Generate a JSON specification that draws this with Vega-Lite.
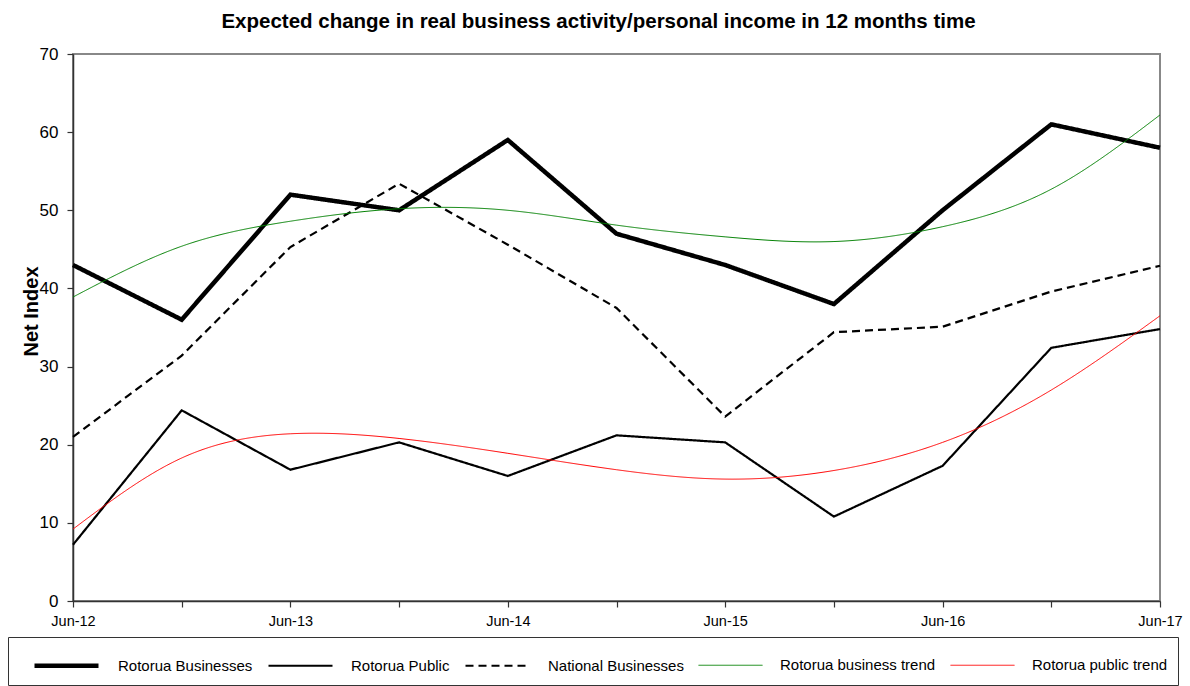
{
  "$schema": "https://vega.github.io/schema/vega-lite/v6.json",
  "autosize": {"type": "none"},
  "padding": {"left": 73, "top": 54, "right": 30, "bottom": 85},
  "width": 1087,
  "height": 547,
  "background": "white",
  "title": {
    "text": "Expected change in real business activity/personal income in 12 months time",
    "font": "Liberation Sans, Arial, sans-serif",
    "fontSize": 20.5,
    "fontWeight": "bold",
    "color": "black",
    "anchor": "middle",
    "dx": -18,
    "dy": 18,
    "offset": 15,
    "baseline": "alphabetic"
  },
  "config": {
    "view": {"stroke": "#888888", "strokeWidth": 2},
    "axis": {"domainColor": "#333333", "tickColor": "#333333", "domainWidth": 1.5, "tickWidth": 1.2, "grid": false, "labelColor": "black", "titleColor": "black"}
  },
  "datasets": {
    "actual": [
      {"period": "Jun-12", "series": "Rotorua Businesses", "value": 43},
      {"period": "Dec-12", "series": "Rotorua Businesses", "value": 36},
      {"period": "Jun-13", "series": "Rotorua Businesses", "value": 52},
      {"period": "Dec-13", "series": "Rotorua Businesses", "value": 50},
      {"period": "Jun-14", "series": "Rotorua Businesses", "value": 59},
      {"period": "Dec-14", "series": "Rotorua Businesses", "value": 47},
      {"period": "Jun-15", "series": "Rotorua Businesses", "value": 43},
      {"period": "Dec-15", "series": "Rotorua Businesses", "value": 38},
      {"period": "Jun-16", "series": "Rotorua Businesses", "value": 50},
      {"period": "Dec-16", "series": "Rotorua Businesses", "value": 61},
      {"period": "Jun-17", "series": "Rotorua Businesses", "value": 58},
      {"period": "Jun-12", "series": "Rotorua Public", "value": 7.2},
      {"period": "Dec-12", "series": "Rotorua Public", "value": 24.4},
      {"period": "Jun-13", "series": "Rotorua Public", "value": 16.8},
      {"period": "Dec-13", "series": "Rotorua Public", "value": 20.3},
      {"period": "Jun-14", "series": "Rotorua Public", "value": 16.0},
      {"period": "Dec-14", "series": "Rotorua Public", "value": 21.2},
      {"period": "Jun-15", "series": "Rotorua Public", "value": 20.3},
      {"period": "Dec-15", "series": "Rotorua Public", "value": 10.8},
      {"period": "Jun-16", "series": "Rotorua Public", "value": 17.3},
      {"period": "Dec-16", "series": "Rotorua Public", "value": 32.4},
      {"period": "Jun-17", "series": "Rotorua Public", "value": 34.8},
      {"period": "Jun-12", "series": "National Businesses", "value": 21.0},
      {"period": "Dec-12", "series": "National Businesses", "value": 31.4},
      {"period": "Jun-13", "series": "National Businesses", "value": 45.3},
      {"period": "Dec-13", "series": "National Businesses", "value": 53.4},
      {"period": "Jun-14", "series": "National Businesses", "value": 45.6},
      {"period": "Dec-14", "series": "National Businesses", "value": 37.5},
      {"period": "Jun-15", "series": "National Businesses", "value": 23.6},
      {"period": "Dec-15", "series": "National Businesses", "value": 34.4},
      {"period": "Jun-16", "series": "National Businesses", "value": 35.1},
      {"period": "Dec-16", "series": "National Businesses", "value": 39.6},
      {"period": "Jun-17", "series": "National Businesses", "value": 42.9}
    ],
    "trend": [
      {"period": "Jun-12", "series": "Rotorua business trend", "value": 38.9},
      {"period": "Dec-12", "series": "Rotorua business trend", "value": 45.4},
      {"period": "Jun-13", "series": "Rotorua business trend", "value": 48.6},
      {"period": "Dec-13", "series": "Rotorua business trend", "value": 50.2},
      {"period": "Jun-14", "series": "Rotorua business trend", "value": 50.0},
      {"period": "Dec-14", "series": "Rotorua business trend", "value": 48.1},
      {"period": "Jun-15", "series": "Rotorua business trend", "value": 46.6},
      {"period": "Dec-15", "series": "Rotorua business trend", "value": 46.0},
      {"period": "Jun-16", "series": "Rotorua business trend", "value": 47.9},
      {"period": "Dec-16", "series": "Rotorua business trend", "value": 52.7},
      {"period": "Jun-17", "series": "Rotorua business trend", "value": 62.2},
      {"period": "Jun-12", "series": "Rotorua public trend", "value": 9.2},
      {"period": "Dec-12", "series": "Rotorua public trend", "value": 18.3},
      {"period": "Jun-13", "series": "Rotorua public trend", "value": 21.4},
      {"period": "Dec-13", "series": "Rotorua public trend", "value": 20.8},
      {"period": "Jun-14", "series": "Rotorua public trend", "value": 18.9},
      {"period": "Dec-14", "series": "Rotorua public trend", "value": 16.8},
      {"period": "Jun-15", "series": "Rotorua public trend", "value": 15.6},
      {"period": "Dec-15", "series": "Rotorua public trend", "value": 16.7},
      {"period": "Jun-16", "series": "Rotorua public trend", "value": 20.3},
      {"period": "Dec-16", "series": "Rotorua public trend", "value": 27.0},
      {"period": "Jun-17", "series": "Rotorua public trend", "value": 36.5}
    ]
  },
  "encoding": {
    "x": {
      "field": "period",
      "type": "ordinal",
      "scale": {"type": "point", "padding": 0, "domain": ["Jun-12","Dec-12","Jun-13","Dec-13","Jun-14","Dec-14","Jun-15","Dec-15","Jun-16","Dec-16","Jun-17"]},
      "axis": {
        "title": null,
        "labelAngle": 0,
        "labelFont": "Liberation Sans, Arial, sans-serif",
        "labelFontSize": 14.5,
        "labelPadding": 7,
        "tickSize": 6,
        "labelOverlap": false,
        "labelExpr": "slice(datum.label, 0, 3) == 'Jun' ? datum.label : ''"
      }
    },
    "y": {
      "field": "value",
      "type": "quantitative",
      "scale": {"domain": [0, 70], "nice": false},
      "axis": {
        "title": "Net Index",
        "values": [0, 10, 20, 30, 40, 50, 60, 70],
        "titleFont": "Liberation Sans, Arial, sans-serif",
        "titleFontSize": 20,
        "titleFontWeight": "bold",
        "titleAngle": -90,
        "titleX": -36,
        "titleY": 257,
        "titleAlign": "center",
        "titleBaseline": "alphabetic",
        "labelFont": "Liberation Sans, Arial, sans-serif",
        "labelFontSize": 17,
        "labelPadding": 9,
        "tickSize": 6
      }
    },
    "color": {
      "field": "series",
      "type": "nominal",
      "scale": {
        "domain": ["Rotorua Businesses", "Rotorua Public", "National Businesses", "Rotorua business trend", "Rotorua public trend"],
        "range": ["#000000", "#000000", "#000000", "#008000", "#ff0000"]
      },
      "legend": {
        "orient": "none",
        "legendX": -65,
        "legendY": 583,
        "direction": "horizontal",
        "title": null,
        "symbolType": "M-2,0H2",
        "symbolSize": 1024,
        "symbolOffset": 30,
        "labelOffset": 33,
        "labelFont": "Liberation Sans, Arial, sans-serif",
        "labelFontSize": 15,
        "labelColor": "black",
        "labelLimit": 0,
        "columnPadding": 0,
        "padding": 10,
        "strokeColor": "#333333",
        "fillColor": "white"
      }
    },
    "strokeWidth": {
      "field": "series",
      "type": "nominal",
      "scale": {
        "type": "ordinal",
        "domain": ["Rotorua Businesses", "Rotorua Public", "National Businesses", "Rotorua business trend", "Rotorua public trend"],
        "range": [4.5, 2.2, 2.2, 1, 1]
      }
    },
    "strokeDash": {
      "field": "series",
      "type": "nominal",
      "scale": {
        "domain": ["Rotorua Businesses", "Rotorua Public", "National Businesses", "Rotorua business trend", "Rotorua public trend"],
        "range": [[1, 0], [1, 0], [8, 5], [1, 0], [1, 0]]
      }
    }
  },
  "layer": [
    {"data": {"name": "actual"}, "mark": {"type": "line", "interpolate": "linear"}},
    {"data": {"name": "trend"}, "mark": {"type": "line", "interpolate": "natural"}}
  ]
}
